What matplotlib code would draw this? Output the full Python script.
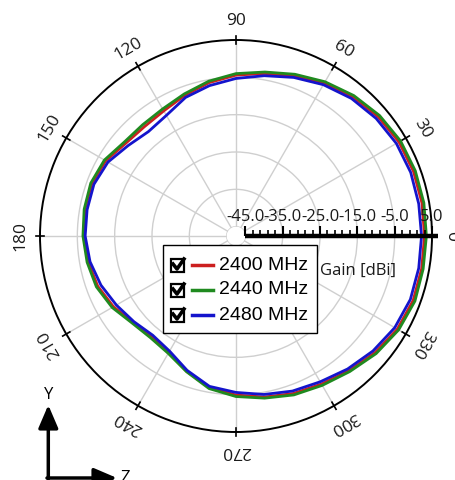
import numpy as np
import matplotlib
matplotlib.use("Agg")
import matplotlib.pyplot as plt
from matplotlib.lines import Line2D
from matplotlib.patches import Rectangle
from matplotlib.transforms import offset_copy

# angles (deg) and measured gain (dBi) for each frequency
angles_deg = list(range(0, 360, 10))
gain_2400 = [3.0, 3.1, 3.1, 2.9, 2.2, 1.2, -0.2, -1.8, -3.3, -4.4,
             -5.8, -7.4, -8.8, -9.3, -8.9, -7.2, -6.4, -6.4, -6.7, -7.3,
             -8.1, -9.6, -11.5, -12.3, -11.5, -8.9, -6.3, -4.9, -3.7, -2.6,
             -1.7, -0.4, 1.1, 2.4, 3.0, 3.0]
gain_2440 = [3.5, 3.6, 3.6, 3.4, 2.7, 1.6, 0.2, -1.4, -2.9, -4.0,
             -5.4, -7.0, -8.2, -8.6, -8.4, -6.8, -6.1, -6.2, -6.5, -7.0,
             -7.7, -9.2, -11.2, -11.9, -11.2, -8.8, -6.0, -4.5, -3.4, -2.2,
             -1.3, -0.1, 1.5, 2.8, 3.5, 3.4]
gain_2480 = [2.2, 2.2, 2.3, 2.1, 1.5, 0.6, -0.7, -2.3, -3.9, -5.3,
             -6.6, -8.0, -10.2, -11.0, -9.8, -7.9, -7.0, -7.0, -7.1, -7.8,
             -9.0, -10.5, -11.8, -12.8, -11.9, -9.2, -6.6, -5.6, -4.4, -3.3,
             -2.4, -1.0, 0.4, 1.6, 2.2, 2.2]

series_labels = ["2400 MHz", "2440 MHz", "2480 MHz"]
series_colors = ["#cc1f1f", "#1f8a1f", "#1414cc"]

theta_labels = [str(a) for a in range(0, 360, 30)]
r_ticks = [-45, -35, -25, -15, -5, 5]
r_tick_labels = ["-45.0", "-35.0", "-25.0", "-15.0", "-5.0", "5.0"]
r_minor = list(range(-45, 6, 2))

fig = plt.figure(figsize=(4.56, 4.80), dpi=100)
ax = fig.add_axes([40 / 456, 48 / 480, 392 / 456, 392 / 480], projection="polar")

ax.set_rorigin(-47.5)
ax.set_rlim(-45, 5)
ax.set_thetagrids(range(0, 360, 30), labels=[""] * 12)
ax.set_rticks(r_ticks[:-1])
ax.set_yticklabels([])
ax.tick_params(axis="x", length=0)
ax.tick_params(axis="y", length=0)
ax.grid(True, color="#cfcfcf", linewidth=1.0)
ax.spines["polar"].set_linewidth(1.4)
ax.spines["polar"].set_color("black")
ax.spines["inner"].set_edgecolor("none")

th = np.deg2rad(angles_deg + [angles_deg[0]])
for g, c in zip([gain_2400, gain_2440, gain_2480], series_colors):
    ax.plot(th, g + [g[0]], color=c, linewidth=2.0, zorder=3)

# ticks and labels on the outer ring
for lab in theta_labels:
    a = int(lab)
    t = np.deg2rad(a)
    ax.plot([t, t], [3.9, 6.1], color="black", linewidth=1.2, clip_on=False)
    ax.text(t, 10.2, lab, rotation=a - 90, rotation_mode="anchor",
            ha="center", va="center", fontsize=12.5, family="Open Sans",
            color="#1a1a1a")

# radial gain scale along 0 deg
ax.plot([0, 0], [-45, 6.5], color="black", linewidth=3.2, clip_on=False,
        zorder=4, solid_capstyle="butt")
ax.plot(np.zeros(len(r_minor)), r_minor, linestyle="none", marker=2,
        markersize=4.5, markeredgewidth=1.2, color="black", zorder=4,
        clip_on=False)
ax.plot(np.zeros(len(r_ticks)), r_ticks, linestyle="none", marker=2,
        markersize=7, markeredgewidth=1.5, color="black", zorder=4,
        clip_on=False)
lab_tr = offset_copy(ax.transData, fig=fig, x=0, y=14, units="points")
for r, lab in zip(r_ticks, r_tick_labels):
    ax.text(0, r, lab, transform=lab_tr, ha="center", va="center",
            fontsize=12, family="Open Sans", color="#1a1a1a", zorder=5,
            clip_on=False)

fig.text(358.5 / 456, 1 - 271 / 480, "Gain [dBi]", ha="center", va="center",
         fontsize=12, family="Open Sans", color="#1a1a1a")

# legend with checkboxes
fig.add_artist(Rectangle((163 / 456, 1 - 333 / 480), 154 / 456, 88 / 480,
                         transform=fig.transFigure, facecolor="white",
                         edgecolor="black", linewidth=1.0, zorder=5))
row_y = [265, 290, 315]
for y, lab, c in zip(row_y, series_labels, series_colors):
    yf = 1 - y / 480
    fig.add_artist(Rectangle((171 / 456, 1 - (y + 6.5) / 480), 13 / 456,
                             13 / 480, transform=fig.transFigure,
                             facecolor="white", edgecolor="black",
                             linewidth=1.6, zorder=6))
    fig.add_artist(Line2D([173 / 456, 177 / 456, 184 / 456],
                          [1 - (y - 1) / 480, 1 - (y + 4) / 480,
                           1 - (y - 6) / 480],
                          color="black", linewidth=2.6,
                          transform=fig.transFigure, zorder=7))
    fig.add_artist(Line2D([192 / 456, 213 / 456], [yf, yf], color=c,
                          linewidth=2.5, transform=fig.transFigure, zorder=6))
    fig.text(219 / 456, yf, lab, ha="left", va="center", fontsize=14,
             family="Liberation Sans", zorder=6)

# coordinate system indicator
arrow = dict(arrowstyle="-|>,head_length=0.7,head_width=0.3", color="black",
             lw=2.5, shrinkA=0, shrinkB=0, mutation_scale=20)
ax.annotate("", xy=(48.3, 75), xytext=(48.3, 1), xycoords="figure pixels",
            textcoords="figure pixels", arrowprops=arrow)
ax.annotate("", xy=(117, 2), xytext=(47, 2), xycoords="figure pixels",
            textcoords="figure pixels", arrowprops=arrow)
fig.text(48.3 / 456, 85 / 480, "Y", ha="center", va="center", fontsize=12,
         family="Open Sans")
fig.text(125 / 456, 2 / 480, "Z", ha="center", va="center", fontsize=12,
         family="Open Sans")

fig.savefig("out.png", dpi=100)
